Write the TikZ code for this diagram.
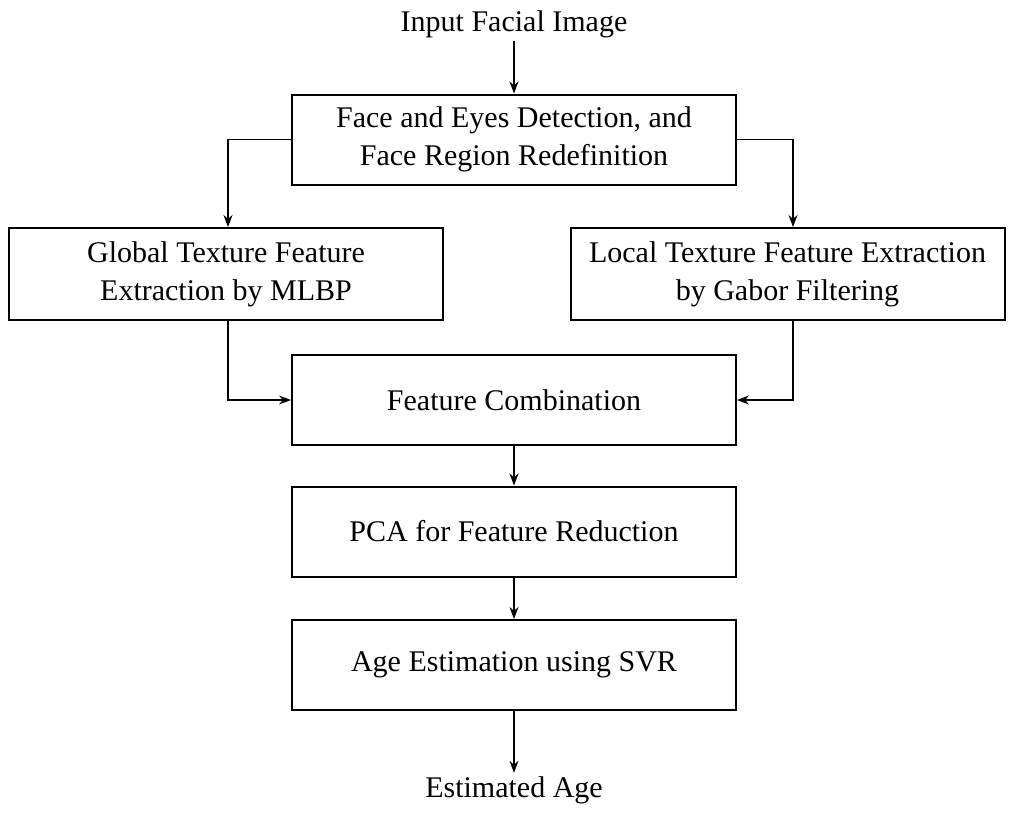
\documentclass[tikz,border=0pt]{standalone}
\usepackage{fontspec}
\setmainfont{Liberation Serif}
\usetikzlibrary{arrows.meta,positioning}
\tikzset{
  stage/.style={draw, line width=2pt, minimum width=444pt, minimum height=90pt, align=center, inner sep=0pt},
  side/.style={stage, minimum width=434pt, minimum height=92pt},
  flow/.style={line width=1.3pt, -{Stealth[length=12pt,width=9pt]}}
}
\begin{document}
\begin{tikzpicture}[x=1pt,y=-1pt,font=\fontsize{30}{38}\selectfont]
   \useasboundingbox (0,0) rectangle (1024,816);

   \node (input) at (514,24) {Input Facial Image};
   \node[stage] (detect) at (514,139.5) {Face and Eyes Detection, and\\Face Region Redefinition};
   \node[side] (global) at (226,274) {Global Texture Feature\\Extraction by MLBP};
   \node[side] (local) at (787.5,274) {Local Texture Feature Extraction\\by Gabor Filtering};
   \node[stage] (combine) at (514,400) {Feature Combination};
   \node[stage] (pca) at (514,531.5) {PCA for Feature Reduction};
   \node[stage] (svr) at (514,665) {Age Estimation using SVR};
   \node (age) at (514,790) {Estimated Age};

   \draw[flow] (input) -- (detect);
   \draw[flow] (detect.west) -| ([xshift=2pt]global.north);
   \draw[flow] (detect.east) -| ([xshift=5.5pt]local.north);
   \draw[flow] ([xshift=2pt]global.south) |- (combine.west);
   \draw[flow] ([xshift=5.5pt]local.south) |- (combine.east);
   \draw[flow] (combine) -- (pca);
   \draw[flow] (pca) -- (svr);
   \draw[flow] (svr) -- (age);
\end{tikzpicture}
\end{document}
